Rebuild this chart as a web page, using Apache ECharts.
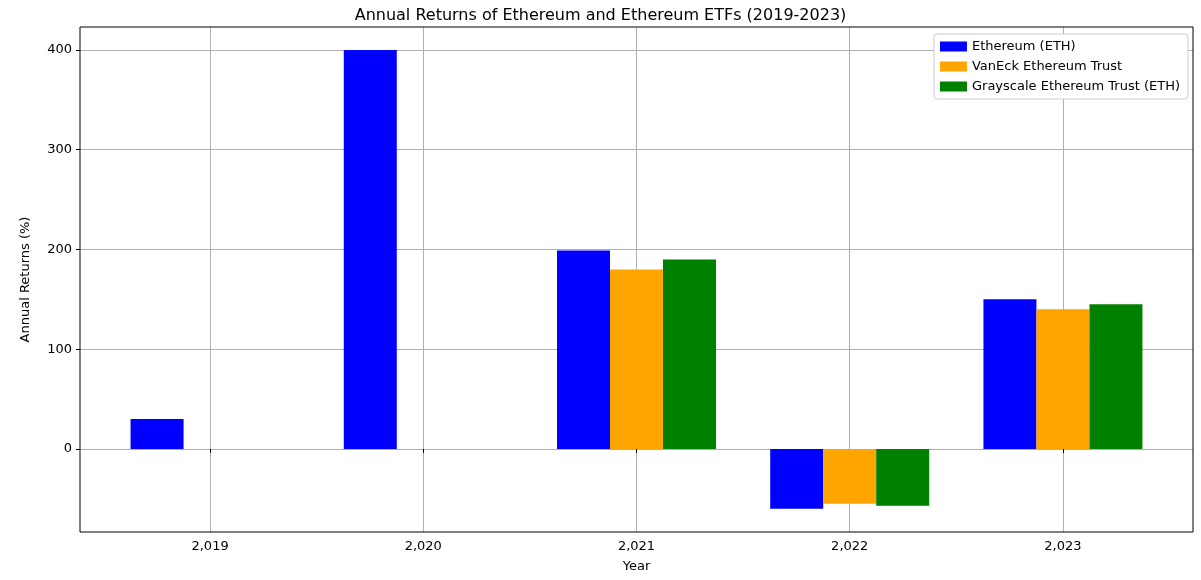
<!DOCTYPE html>
<html>
<head>
<meta charset="utf-8">
<script src="https://cdn.jsdelivr.net/npm/echarts@6/dist/echarts.min.js"></script>
<style>html,body{margin:0;padding:0;background:#fff}</style>
</head>
<body>
<div id="chart" style="width:1201px;height:580px;"></div>
<script>
var years = [2019, 2020, 2021, 2022, 2023];
var ethReturns = [30, 400, 199, -60, 150];
var vaneckReturns = [null, null, 180, -55, 140];
var grayscaleReturns = [null, null, 190, -57, 145];
var yTicks = [0, 100, 200, 300, 400];

function pairs(vals) {
	return years.map(function (y, i) { return [y, vals[i]]; });
}

var myChart = echarts.init(document.getElementById('chart'));
var font = 'DejaVu Sans';
var option = {
	animation: false,
	textStyle: { fontFamily: font },
	title: {
		text: 'Annual Returns of Ethereum and Ethereum ETFs (2019-2023)',
		left: 'center', top: 3,
		textStyle: { fontSize: 16, fontWeight: 'normal', color: '#000', fontFamily: font }
	},
	legend: {
		orient: 'vertical', right: 13, top: 34,
		backgroundColor: '#fff', borderColor: '#ccc', borderWidth: 1, borderRadius: 3,
		padding: [6, 8, 6, 6], itemGap: 7,
		itemWidth: 27, itemHeight: 10, icon: 'rect',
		textStyle: { fontSize: 13, color: '#000', fontFamily: font },
		data: ['Ethereum (ETH)', 'VanEck Ethereum Trust', 'Grayscale Ethereum Trust (ETH)']
	},
	grid: { left: 80, right: 8, top: 27, bottom: 48, show: true, borderColor: '#000', borderWidth: 1, z: 10 },
	xAxis: {
		type: 'value', min: 2018.39, max: 2023.61,
		name: 'Year', nameLocation: 'middle', nameGap: 28,
		nameTextStyle: { fontSize: 13, color: '#000' },
		axisLine: { show: false },
		axisTick: { customValues: years, length: 4, lineStyle: { color: '#000' } },
		axisLabel: { customValues: years, color: '#000', fontSize: 13, margin: 8 },
		splitLine: { show: true, lineStyle: { color: '#b0b0b0' } }
	},
	yAxis: {
		type: 'value', min: -83.2, max: 423,
		name: 'Annual Returns (%)', nameLocation: 'middle', nameGap: 48,
		nameTextStyle: { fontSize: 13, color: '#000' },
		axisLine: { show: false },
		axisTick: { show: true, customValues: yTicks, length: 4, lineStyle: { color: '#000' } },
		axisLabel: { customValues: yTicks, color: '#000', fontSize: 13 },
		splitLine: { show: true, lineStyle: { color: '#b0b0b0' } }
	},
	series: [
		{ name: 'Ethereum (ETH)', type: 'bar', barWidth: 53, barGap: '0%', itemStyle: { color: '#0000ff' }, data: pairs(ethReturns) },
		{ name: 'VanEck Ethereum Trust', type: 'bar', barWidth: 53, barGap: '0%', itemStyle: { color: '#ffa500' }, data: pairs(vaneckReturns) },
		{ name: 'Grayscale Ethereum Trust (ETH)', type: 'bar', barWidth: 53, barGap: '0%', itemStyle: { color: '#008000' }, data: pairs(grayscaleReturns) }
	]
};
myChart.setOption(option);
</script>
</body>
</html>
